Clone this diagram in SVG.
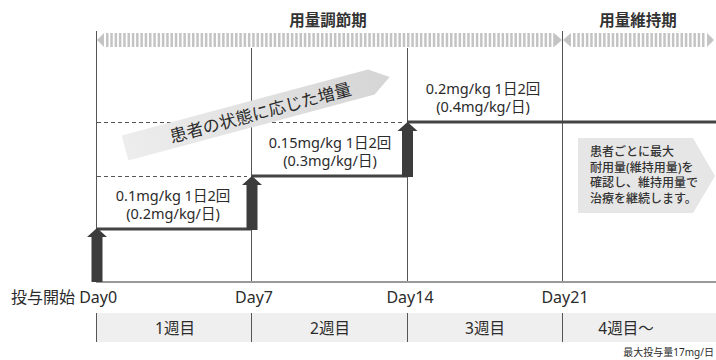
<svg xmlns="http://www.w3.org/2000/svg" width="716" height="360" viewBox="0 0 716 360">
<style>
text{font-family:"Noto Sans","Noto Sans CJK JP",sans-serif;fill:#2b2b2b}
.grid{stroke:#555;stroke-width:1;fill:none}
.dash{stroke:#555;stroke-width:1;stroke-dasharray:4 3;fill:none}
.step{stroke:#444;stroke-width:3;fill:none}
.arr{fill:#3c3c3c}
.band{stroke:#c4c4c4;stroke-width:14;stroke-dasharray:2.5 1.8;fill:none}
.tri{fill:#c4c4c4}
.dose{font-size:14.5px;text-anchor:middle}
.day{font-size:16px;text-anchor:middle}
.wk{font-size:15.5px;text-anchor:middle}
.title{font-size:15.5px;font-weight:bold;text-anchor:middle;fill:#333}
.note{font-size:12px;font-weight:500;fill:#333}
</style>
<defs>
<linearGradient id="bg" x1="0" y1="0" x2="1" y2="0">
<stop offset="0" stop-color="#ededed"/>
<stop offset="1" stop-color="#d5d5d5"/>
</linearGradient>
</defs>
<rect width="716" height="360" fill="#fff"/>

<g id="period-band">
<text class="title" x="328" y="26">用量調節期</text>
<text class="title" x="638" y="26">用量維持期</text>
<polygon class="tri" points="97,40 104,33 104,47"/>
<line class="band" x1="106" y1="40" x2="554" y2="40"/>
<polygon class="tri" points="554,33 562,40 554,47"/>
<polygon class="tri" points="571,33 563,40 571,47"/>
<line class="band" x1="573" y1="40" x2="706" y2="40"/>
<polygon class="tri" points="707,33 714,40 707,47"/>
</g>

<g id="bottom-band">
<rect x="96" y="313" width="620" height="29" fill="#efefef"/>
</g>

<g id="grid">
<line class="grid" x1="96.5" y1="31" x2="96.5" y2="282"/>
<line class="grid" x1="251.5" y1="48" x2="251.5" y2="282"/>
<line class="grid" x1="407.5" y1="48" x2="407.5" y2="282"/>
<line class="grid" x1="562.5" y1="31" x2="562.5" y2="282"/>
<line class="grid" x1="96.5" y1="313" x2="96.5" y2="342"/>
<line class="grid" x1="251.5" y1="313" x2="251.5" y2="342"/>
<line class="grid" x1="407.5" y1="313" x2="407.5" y2="342"/>
<line class="grid" x1="562.5" y1="313" x2="562.5" y2="342"/>
<line x1="96" y1="282" x2="716" y2="282" stroke="#9a9a9a" stroke-width="2"/>
<line class="dash" x1="97" y1="176.5" x2="247" y2="176.5"/>
<line class="dash" x1="97" y1="122.5" x2="402" y2="122.5"/>
</g>

<g id="banner" transform="translate(125,148) rotate(-15)">
<polygon points="0,-13 255,-13 274,0 255,13 0,13" fill="url(#bg)"/>
<text x="140" y="7" font-size="17" text-anchor="middle" fill="#333">患者の状態に応じた増量</text>
</g>

<g id="connectors">
<line class="step" x1="97" y1="229" x2="252" y2="229"/>
<line class="step" x1="252" y1="176" x2="407" y2="176"/>
<line class="step" x1="407" y1="122" x2="716" y2="122"/>
<polygon class="arr" points="91.5,282 91.5,237 87,237 97,228 107,237 102.5,237 102.5,282"/>
<polygon class="arr" points="246.5,230 246.5,185 242,185 252,176 262,185 257.5,185 257.5,230"/>
<polygon class="arr" points="402,177 402,131 397.5,131 407.5,122 417.5,131 413,131 413,177"/>
</g>

<g id="dose1">
<text class="dose" x="173" y="201">0.1mg/kg 1日2回</text>
<text class="dose" x="173" y="219">(0.2mg/kg/日)</text>
</g>
<g id="dose2">
<text class="dose" x="330" y="147.5">0.15mg/kg 1日2回</text>
<text class="dose" x="330" y="166">(0.3mg/kg/日)</text>
</g>
<g id="dose3">
<text class="dose" x="483" y="93.5">0.2mg/kg 1日2回</text>
<text class="dose" x="483" y="112">(0.4mg/kg/日)</text>
</g>

<g id="callout">
<polygon points="578,138 693,138 715,176 693,213 578,213" fill="#e6e6e6"/>
<text class="note" x="590" y="156">患者ごとに最大</text>
<text class="note" x="590" y="171.5">耐用量(維持用量)を</text>
<text class="note" x="590" y="187">確認し、維持用量で</text>
<text class="note" x="590" y="202.5">治療を継続します。</text>
</g>

<g id="days">
<text x="11" y="303" font-size="16">投与開始 Day0</text>
<text class="day" x="254" y="303">Day7</text>
<text class="day" x="410" y="303">Day14</text>
<text class="day" x="565" y="303">Day21</text>
</g>

<g id="weeks">
<text class="wk" x="175" y="334">1週目</text>
<text class="wk" x="330" y="334">2週目</text>
<text class="wk" x="485" y="334">3週目</text>
<text class="wk" x="626" y="334">4週目〜</text>
</g>

<text x="714" y="356" font-size="10" text-anchor="end">最大投与量17mg/日</text>
</svg>
